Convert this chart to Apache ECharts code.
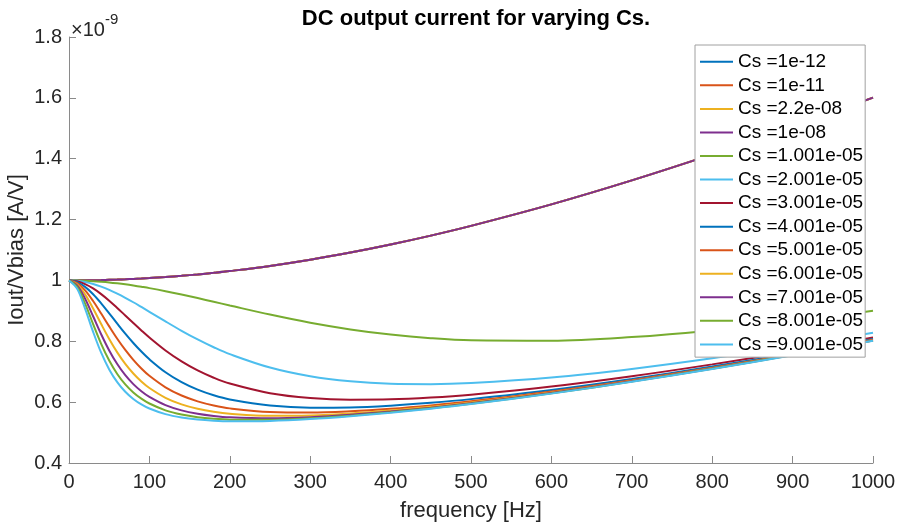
<!DOCTYPE html>
<html>
<head>
<meta charset="utf-8">
<script src="https://cdn.jsdelivr.net/npm/echarts@6/dist/echarts.min.js"></script>
<style>
html,body{margin:0;padding:0;background:#fff;}
#chart{width:898px;height:525px;}
</style>
</head>
<body>
<div id="chart"></div>
<script>
// frequency samples [Hz]
var freq = [0,10,20,30,40,50,60,70,80,90,100,120,140,160,180,200,250,300,350,400,450,500,600,700,800,900,1000];

var legendNames = ['Cs =1e-12','Cs =1e-11','Cs =2.2e-08','Cs =1e-08','Cs =1.001e-05','Cs =2.001e-05','Cs =3.001e-05','Cs =4.001e-05','Cs =5.001e-05','Cs =6.001e-05','Cs =7.001e-05','Cs =8.001e-05','Cs =9.001e-05'];

// Iout/Vbias in units of 1e-9 A/V
var csSmall = [1.000,1.0001,1.0003,1.0007,1.0012,1.0020,1.0028,1.0038,1.0050,1.0063,1.0078,1.0112,1.0152,1.0198,1.0250,1.0308,1.0477,1.0680,1.0916,1.1180,1.1473,1.1793,1.2500,1.3288,1.4142,1.5052,1.6008];
var cs1e12 = csSmall.slice();
var cs1e11 = csSmall.slice();
var cs22e09 = csSmall.slice();
var cs1e08 = csSmall.slice();
var cs1 = [1.000,0.9998,0.9989,0.9975,0.9956,0.9933,0.9904,0.9871,0.9833,0.9791,0.9747,0.9647,0.9537,0.9420,0.9299,0.9176,0.8877,0.8609,0.8390,0.8220,0.8102,0.8033,0.8019,0.8138,0.8356,0.8650,0.9000];
var cs2 = [1.000,0.9987,0.9947,0.9883,0.9796,0.9690,0.9566,0.9429,0.9283,0.9128,0.8970,0.8653,0.8346,0.8062,0.7804,0.7577,0.7136,0.6850,0.6684,0.6605,0.6592,0.6630,0.6811,0.7093,0.7443,0.7842,0.8278];
var cs3 = [1.000,0.9970,0.9879,0.9737,0.9551,0.9335,0.9096,0.8848,0.8600,0.8356,0.8123,0.7699,0.7340,0.7043,0.6803,0.6612,0.6294,0.6136,0.6081,0.6092,0.6151,0.6246,0.6512,0.6851,0.7241,0.7670,0.8128];
var cs4 = [1.000,0.9945,0.9787,0.9546,0.9248,0.8919,0.8581,0.8252,0.7945,0.7662,0.7408,0.6983,0.6658,0.6411,0.6227,0.6090,0.5890,0.5819,0.5827,0.5884,0.5977,0.6099,0.6400,0.6762,0.7168,0.7608,0.8074];
var cs5 = [1.000,0.9915,0.9674,0.9323,0.8913,0.8490,0.8084,0.7715,0.7389,0.7106,0.6865,0.6487,0.6217,0.6026,0.5890,0.5795,0.5675,0.5657,0.5700,0.5782,0.5893,0.6028,0.6347,0.6720,0.7133,0.7578,0.8049];
var cs6 = [1.000,0.9877,0.9542,0.9077,0.8567,0.8076,0.7635,0.7257,0.6941,0.6679,0.6464,0.6143,0.5926,0.5780,0.5681,0.5617,0.5549,0.5564,0.5628,0.5724,0.5846,0.5988,0.6318,0.6697,0.7114,0.7562,0.8035];
var cs7 = [1.000,0.9834,0.9397,0.8822,0.8232,0.7700,0.7251,0.6885,0.6592,0.6358,0.6172,0.5903,0.5730,0.5618,0.5546,0.5502,0.5471,0.5507,0.5584,0.5690,0.5818,0.5964,0.6300,0.6683,0.7103,0.7553,0.8027];
var cs8 = [1.000,0.9786,0.9240,0.8564,0.7915,0.7367,0.6927,0.6584,0.6319,0.6114,0.5955,0.5731,0.5593,0.5506,0.5454,0.5425,0.5418,0.5469,0.5555,0.5666,0.5799,0.5948,0.6288,0.6674,0.7096,0.7547,0.8022];
var cs9 = [1.000,0.9731,0.9074,0.8310,0.7624,0.7076,0.6657,0.6342,0.6106,0.5927,0.5791,0.5605,0.5493,0.5426,0.5388,0.5370,0.5382,0.5442,0.5535,0.5651,0.5786,0.5938,0.6280,0.6668,0.7090,0.7542,0.8018];

var allSeries = [cs1e12,cs1e11,cs22e09,cs1e08,cs1,cs2,cs3,cs4,cs5,cs6,cs7,cs8,cs9];
var colors = ['#0072BD','#D95319','#EDB120','#7E2F8E','#77AC30','#4DBEEE','#A2142F','#0072BD','#D95319','#EDB120','#7E2F8E','#77AC30','#4DBEEE'];

var FONT = '"Liberation Sans", Arial, Helvetica, sans-serif';
var chart = echarts.init(document.getElementById('chart'), null, {renderer:'canvas'});

var series = allSeries.map(function(arr, i){
  return {
    name: legendNames[i],
    type: 'line',
    symbol: 'none',
    smooth: 0.35,
    data: freq.map(function(f, j){ return [f, arr[j]]; }),
    lineStyle: {color: colors[i], width: 2},
    itemStyle: {color: colors[i]},
    emphasis: {disabled: true},
    animation: false
  };
});

var axisGray = '#8a8a8a';
var option = {
  backgroundColor: '#ffffff',
  animation: false,
  title: {
    text: 'DC output current for varying Cs.',
    left: 471, top: 3, textAlign: 'center',
    textStyle: {fontFamily: FONT, fontSize: 22, fontWeight: 'bold', color: '#000'}
  },
  grid: {left: 69, right: 25, top: 37, bottom: 62, containLabel: false, outerBoundsMode: 'none'},
  legend: {
    orient: 'vertical',
    left: 695, top: 45,
    padding: [5, 2, 1, 5],
    icon: 'rect',
    itemWidth: 33, itemHeight: 2, itemGap: 0,
    borderColor: '#a0a0a0', borderWidth: 1, backgroundColor: '#fff',
    textStyle: {fontFamily: FONT, fontSize: 19, color: '#000', lineHeight: 23.55},
    data: legendNames
  },
  xAxis: {
    type: 'value', min: 0, max: 1000, interval: 100,
    name: 'frequency [Hz]', nameLocation: 'middle', nameGap: 37,
    nameTextStyle: {fontFamily: FONT, fontSize: 22, color: '#262626'},
    axisLine: {show: true, lineStyle: {color: axisGray, width: 1}},
    axisTick: {show: true, inside: true, length: 7, lineStyle: {color: axisGray}},
    axisLabel: {fontFamily: FONT, fontSize: 20, color: '#262626', margin: 9,
      formatter: function(v){ return String(Math.round(v)); }},
    splitLine: {show: false}
  },
  yAxis: {
    type: 'value', min: 0.4, max: 1.8, interval: 0.2,
    name: 'Iout/Vbias [A/V]', nameLocation: 'middle', nameGap: 41,
    nameMoveOverlap: false,
    nameTextStyle: {fontFamily: FONT, fontSize: 22, color: '#262626'},
    axisLine: {show: true, lineStyle: {color: axisGray, width: 1}},
    axisTick: {show: true, inside: true, length: 7, lineStyle: {color: axisGray}},
    axisLabel: {fontFamily: FONT, fontSize: 20, color: '#262626', margin: 7,
      formatter: function(v){ return String(Math.round(v*10)/10); }},
    splitLine: {show: false}
  },
  graphic: [{
    type: 'text', left: 71, top: 12,
    style: {
      text: '{a|×10}{b|-9}',
      rich: {
        a: {fontFamily: FONT, fontSize: 20, fill: '#262626', verticalAlign: 'bottom', padding: [8,0,0,0]},
        b: {fontFamily: FONT, fontSize: 15, fill: '#262626', verticalAlign: 'top', padding: [0,0,10,0]}
      }
    }
  }],
  series: series
};
chart.setOption(option);
</script>
</body>
</html>
